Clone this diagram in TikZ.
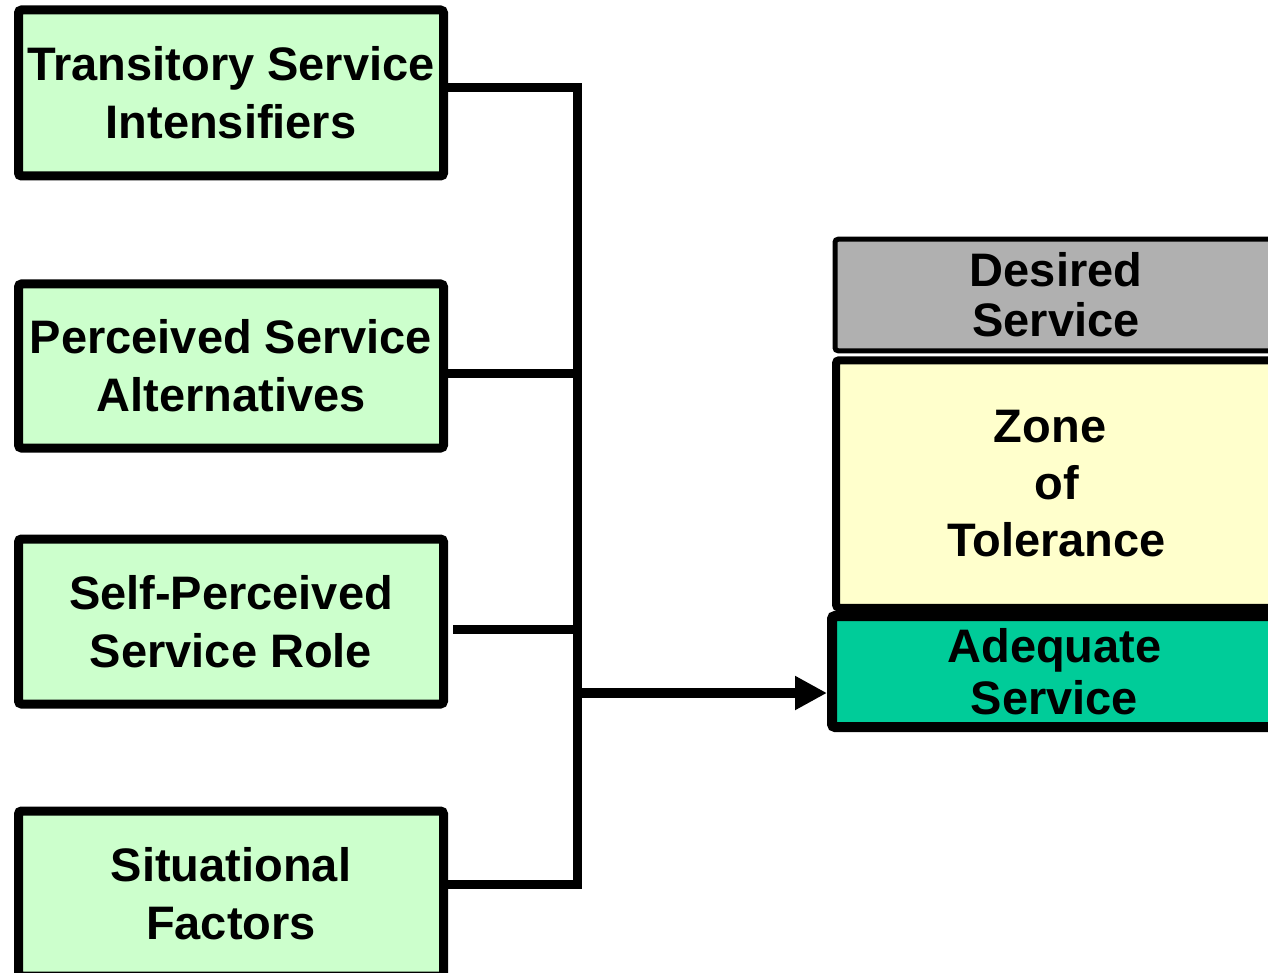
\documentclass[tikz,border=0pt]{standalone}
\usepackage{fontspec}
\setmainfont{Liberation Sans}
\usetikzlibrary{arrows.meta}
\definecolor{boxgreen}{HTML}{CCFFCC}
\definecolor{boxyellow}{HTML}{FFFFCC}
\definecolor{boxgray}{HTML}{B0B0B0}
\definecolor{boxteal}{HTML}{00CC99}
\tikzset{
  leftbox/.style={draw, line width=9pt, fill=boxgreen, rounded corners=3pt,
    minimum width=425pt, inner sep=0pt, align=center,
    font=\fontsize{47}{58}\selectfont\bfseries},
  rightbox/.style={draw, rounded corners=3pt, inner sep=0pt, align=center},
  bus/.style={line width=9pt, line join=miter},
}
\begin{document}
\begin{tikzpicture}[x=1pt,y=-1pt]
\useasboundingbox (0,0) rectangle (1268,973);
\clip (0,0) rectangle (1268,973);
% left boxes
\node[leftbox, minimum height=166pt] (b1) at (231,93) {Transitory Service\\Intensifiers};
\node[leftbox, minimum height=164pt] (b2) at (231,366) {Perceived Service\\Alternatives};
\node[leftbox, minimum height=165pt] (b3) at (231,621.5) {Self-Perceived\\Service Role};
\node[leftbox, minimum height=165pt] (b4) at (231,893.5) {Situational\\Factors};
% right boxes
\node[rightbox, fill=boxgray, line width=5pt, minimum width=442pt, minimum height=111.5pt,
  font=\fontsize{47}{50}\selectfont\bfseries] (ds) at (1056,295) {Desired\\Service};
\node[rightbox, fill=boxyellow, line width=8pt, minimum width=441pt, minimum height=247.5pt,
  font=\fontsize{47}{57}\selectfont\bfseries] (zt) at (1056.5,484) {Zone\hspace*{13pt}\\of\hspace*{13pt}\\Tolerance};
\node[rightbox, fill=boxteal, line width=10pt, minimum width=445pt, minimum height=111pt,
  font=\fontsize{47}{52}\selectfont\bfseries] (ad) at (1054.5,671.5) {Adequate\\Service};
% junctions on the bus
\coordinate (j1) at (577,88);
\coordinate (j2) at (577,373);
\coordinate (j3) at (577,629.5);
\coordinate (j4) at (577,884);
\coordinate (ja) at (577,693);
% connectors
\draw[bus] (b1.east |- j1) -- (j1) -- (j4) -- (b4.east |- j4);
\draw[bus] (b2.east |- j2) -- (j2);
\draw[bus] ([xshift=5pt]b3.east |- j3) -- (j3);
\draw[line width=10pt, -{Triangle[length=32pt,width=32pt]}] (ja) -- (ad.west |- ja);
\end{tikzpicture}
\end{document}
